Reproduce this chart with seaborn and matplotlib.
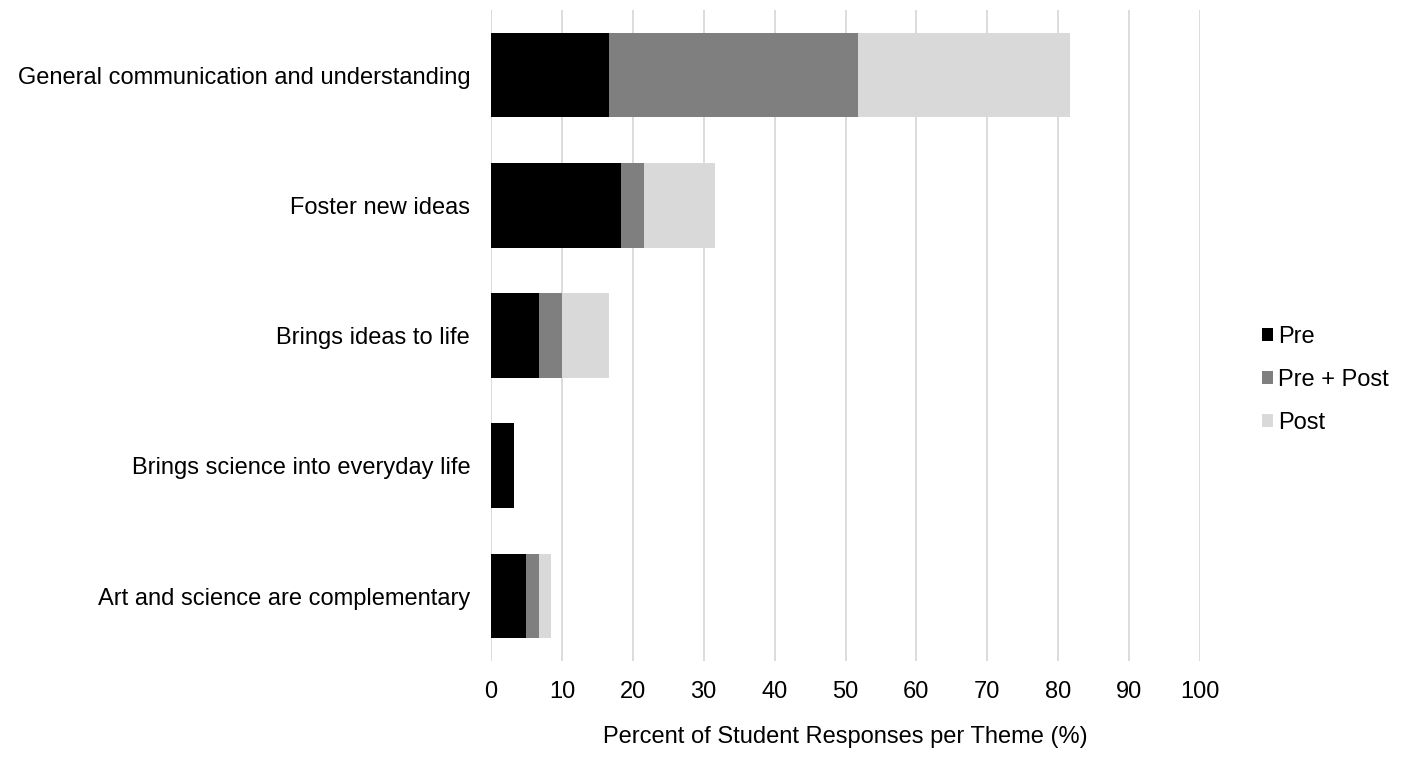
import numpy as np
import pandas as pd
import matplotlib
matplotlib.use("Agg")
import matplotlib.pyplot as plt
from matplotlib.patches import Patch
import seaborn as sns

# -----------------------------------------------------------------------------
# Data (percent of student responses per theme)
# -----------------------------------------------------------------------------
themes = [
    "General communication and understanding",
    "Foster new ideas",
    "Brings ideas to life",
    "Brings science into everyday life",
    "Art and science are complementary",
]
pre = [16.7, 18.3, 6.7, 3.3, 5.0]
pre_post = [35.0, 3.3, 3.3, 0.0, 1.7]
post = [30.0, 10.0, 6.7, 0.0, 1.7]

series_names = ["Pre", "Pre + Post", "Post"]
colours = ["#000000", "#7f7f7f", "#d9d9d9"]

# Cumulative totals for stacking (draw longest first)
df = pd.DataFrame({"theme": themes, "pre": pre, "pre_post": pre_post, "post": post})
df["c1"] = df["pre"]
df["c2"] = df["pre"] + df["pre_post"]
df["c3"] = df["c2"] + df["post"]

# -----------------------------------------------------------------------------
# Plotting attributes
# -----------------------------------------------------------------------------
sns.set_theme(style="whitegrid")
plt.rcParams["font.family"] = ["Liberation Sans", "DejaVu Sans"]
fs = 17

fig = plt.figure(figsize=(14.09, 7.6), dpi=100)
ax = fig.add_axes([491 / 1409, 0.130, (1200 - 491) / 1409, 0.857])

for col, c in zip(["c3", "c2", "c1"], colours[::-1]):
    sns.barplot(data=df, x=col, y="theme", orient="h", color=c, width=0.65,
                saturation=1, edgecolor="none", linewidth=0, ax=ax, zorder=3)

ax.set_xlim(0, 100)
ax.set_xticks(np.arange(0, 101, 10))
ax.grid(axis="x", color="#d9d9d9", lw=1.3, zorder=0)
ax.grid(axis="y", visible=False)
for s in ax.spines.values():
    s.set_visible(False)
ax.tick_params(axis="both", length=0, labelsize=fs, colors="black")
ax.tick_params(axis="x", pad=14)
ax.tick_params(axis="y", pad=15)
ax.set_ylabel("")
ax.set_xlabel("Percent of Student Responses per Theme (%)", fontsize=fs, labelpad=17, color="black")

handles = [Patch(facecolor=c, edgecolor="none") for c in colours]
leg = fig.legend(handles, series_names, loc="center left", bbox_to_anchor=(1262 / 1409, 1 - 380 / 760),
                 frameon=False, fontsize=fs, handlelength=0.47, handleheight=0.47,
                 handletextpad=0.22, labelspacing=0.88, borderpad=0, borderaxespad=0)
for t in leg.get_texts():
    t.set_color("black")

fig.savefig("out.png", dpi=100, facecolor="white")
